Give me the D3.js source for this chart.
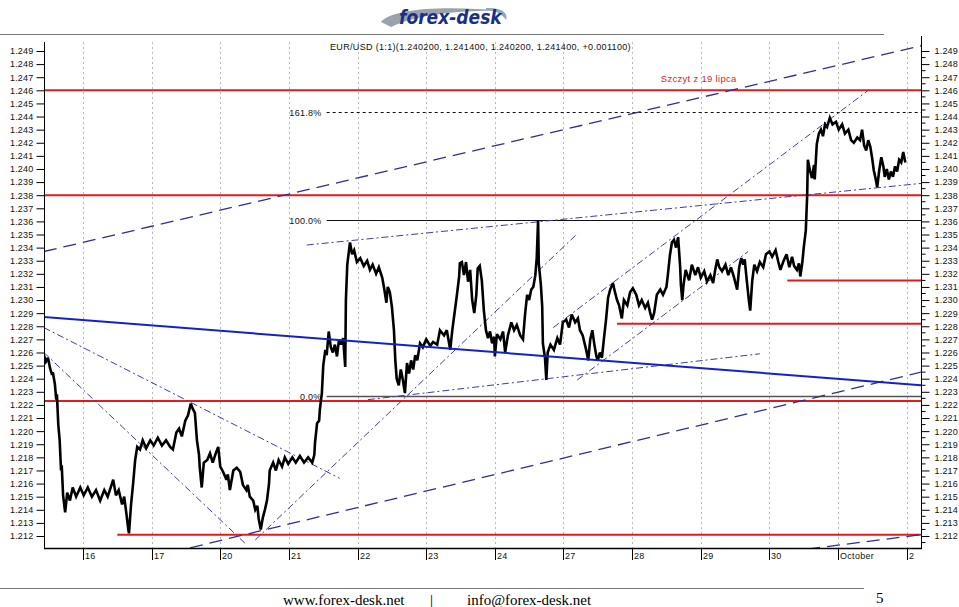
<!DOCTYPE html>
<html><head><meta charset="utf-8">
<script src="https://cdn.jsdelivr.net/npm/d3@7"></script>
<style>
body{margin:0;background:#fff;}
svg{display:block;}
</style></head>
<body>
<svg id="c" width="959" height="607" font-family="Arial,'Liberation Sans',sans-serif"></svg>
<script>
// ---- data ----
const dayLabels = ["16","17","20","21","22","23","24","27","28","29","30","October","2"];
const priceTicks = d3.range(1212, 1250).map(v => v / 1000);
const titleText = "EUR/USD (1:1)(1.240200, 1.241400, 1.240200, 1.241400, +0.001100)";
// [trading-day index, price]
const price = [
[-0.57,1.2258],[-0.54,1.2253],[-0.51,1.2256],[-0.48,1.2248],[-0.45,1.2243],[-0.44,1.2245],[-0.41,1.2236],[-0.39,1.2224],[-0.38,1.2228],[-0.36,1.2205],
[-0.34,1.2193],[-0.32,1.2170],[-0.31,1.2174],[-0.29,1.2151],[-0.26,1.2138],[-0.23,1.2153],[-0.19,1.2147],[-0.15,1.2157],[-0.10,1.2150],[-0.04,1.2157],
[0.01,1.2151],[0.07,1.2157],[0.13,1.2150],[0.19,1.2155],[0.25,1.2147],[0.31,1.2155],[0.36,1.2150],[0.41,1.2158],[0.44,1.2163],[0.48,1.2151],
[0.52,1.2155],[0.57,1.2144],[0.60,1.2150],[0.63,1.2138],[0.66,1.2125],[0.67,1.2122],[0.70,1.2144],[0.73,1.2160],[0.76,1.2178],[0.79,1.2188],
[0.83,1.2186],[0.87,1.2193],[0.92,1.2187],[0.98,1.2193],[1.03,1.2189],[1.09,1.2195],[1.15,1.2189],[1.21,1.2193],[1.27,1.2188],[1.31,1.2186],
[1.36,1.2199],[1.40,1.2202],[1.44,1.2196],[1.49,1.2208],[1.53,1.2212],[1.57,1.2221],[1.60,1.2217],[1.63,1.2214],[1.66,1.2193],[1.69,1.2182],
[1.70,1.2173],[1.73,1.2157],[1.76,1.2176],[1.81,1.2178],[1.85,1.2183],[1.89,1.2176],[1.94,1.2184],[1.97,1.2188],[2.00,1.2173],[2.04,1.2169],
[2.09,1.2163],[2.11,1.2167],[2.14,1.2155],[2.19,1.2170],[2.24,1.2172],[2.29,1.2169],[2.33,1.2159],[2.38,1.2155],[2.40,1.2159],[2.43,1.2150],
[2.48,1.2147],[2.51,1.2140],[2.54,1.2143],[2.56,1.2133],[2.59,1.2125],[2.62,1.2134],[2.65,1.2140],[2.68,1.2147],[2.71,1.2160],[2.72,1.2170],
[2.77,1.2176],[2.81,1.2170],[2.85,1.2178],[2.90,1.2173],[2.94,1.2180],[2.99,1.2175],[3.05,1.2180],[3.10,1.2176],[3.16,1.2181],[3.22,1.2176],
[3.28,1.2180],[3.34,1.2176],[3.37,1.2182],[3.38,1.2191],[3.41,1.2206],[3.44,1.2208],[3.45,1.2216],[3.48,1.2229],[3.50,1.2250],[3.53,1.2262],
[3.55,1.2258],[3.58,1.2276],[3.61,1.2264],[3.64,1.2260],[3.67,1.2266],[3.70,1.2257],[3.73,1.2270],[3.76,1.2266],[3.79,1.2271],[3.82,1.2249],
[3.83,1.2300],[3.85,1.2327],[3.88,1.2340],[3.89,1.2344],[3.92,1.2335],[3.95,1.2338],[3.99,1.2329],[4.04,1.2332],[4.09,1.2326],[4.14,1.2330],
[4.18,1.2323],[4.22,1.2327],[4.27,1.2320],[4.31,1.2325],[4.36,1.2317],[4.39,1.2308],[4.42,1.2298],[4.44,1.2310],[4.47,1.2306],[4.50,1.2295],
[4.53,1.2277],[4.55,1.2254],[4.57,1.2240],[4.60,1.2235],[4.63,1.2247],[4.66,1.2239],[4.69,1.2229],[4.72,1.2252],[4.75,1.2244],[4.78,1.2254],
[4.81,1.2247],[4.84,1.2258],[4.87,1.2254],[4.91,1.2267],[4.95,1.2264],[5.00,1.2270],[5.06,1.2265],[5.10,1.2268],[5.16,1.2266],[5.20,1.2277],
[5.26,1.2273],[5.30,1.2277],[5.35,1.2262],[5.38,1.2277],[5.41,1.2289],[5.45,1.2305],[5.48,1.2318],[5.49,1.2328],[5.52,1.2329],[5.55,1.2319],
[5.58,1.2329],[5.61,1.2314],[5.64,1.2323],[5.67,1.2300],[5.70,1.2290],[5.73,1.2304],[5.75,1.2324],[5.78,1.2326],[5.81,1.2315],[5.84,1.2292],
[5.87,1.2277],[5.90,1.2271],[5.93,1.2276],[5.96,1.2267],[5.99,1.2272],[6.00,1.2257],[6.03,1.2274],[6.08,1.2270],[6.12,1.2276],[6.15,1.2260],
[6.19,1.2273],[6.24,1.2283],[6.28,1.2277],[6.32,1.2281],[6.37,1.2273],[6.41,1.2270],[6.44,1.2289],[6.47,1.2304],[6.50,1.2300],[6.53,1.2308],
[6.56,1.2310],[6.59,1.2319],[6.61,1.2332],[6.63,1.2361],[6.64,1.2328],[6.67,1.2312],[6.69,1.2295],[6.70,1.2267],[6.73,1.2256],[6.75,1.2239],
[6.77,1.2260],[6.81,1.2266],[6.86,1.2262],[6.91,1.2271],[6.95,1.2266],[6.99,1.2283],[7.04,1.2285],[7.08,1.2279],[7.12,1.2289],[7.17,1.2283],
[7.21,1.2286],[7.24,1.2277],[7.28,1.2273],[7.33,1.2262],[7.36,1.2254],[7.39,1.2270],[7.42,1.2277],[7.45,1.2266],[7.48,1.2257],[7.50,1.2254],
[7.53,1.2260],[7.56,1.2256],[7.59,1.2271],[7.62,1.2285],[7.65,1.2302],[7.68,1.2308],[7.72,1.2313],[7.75,1.2306],[7.78,1.2300],[7.81,1.2296],
[7.85,1.2286],[7.88,1.2300],[7.93,1.2296],[7.97,1.2306],[8.01,1.2309],[8.06,1.2304],[8.10,1.2296],[8.14,1.2300],[8.19,1.2294],[8.23,1.2298],
[8.26,1.2291],[8.29,1.2285],[8.32,1.2290],[8.36,1.2304],[8.41,1.2308],[8.45,1.2304],[8.50,1.2310],[8.52,1.2319],[8.55,1.2334],[8.58,1.2344],
[8.61,1.2346],[8.64,1.2340],[8.67,1.2348],[8.70,1.2325],[8.71,1.2312],[8.73,1.2300],[8.75,1.2312],[8.78,1.2323],[8.83,1.2315],[8.87,1.2327],
[8.92,1.2319],[8.96,1.2325],[9.00,1.2317],[9.05,1.2322],[9.09,1.2314],[9.14,1.2319],[9.18,1.2313],[9.21,1.2323],[9.24,1.2331],[9.27,1.2325],
[9.31,1.2322],[9.36,1.2327],[9.40,1.2319],[9.44,1.2325],[9.48,1.2318],[9.53,1.2308],[9.56,1.2325],[9.59,1.2332],[9.62,1.2327],[9.64,1.2331],
[9.67,1.2315],[9.70,1.2300],[9.72,1.2292],[9.75,1.2315],[9.78,1.2327],[9.82,1.2322],[9.86,1.2329],[9.91,1.2325],[9.95,1.2335],[10.00,1.2337],
[10.04,1.2333],[10.09,1.2338],[10.13,1.2329],[10.16,1.2323],[10.20,1.2329],[10.25,1.2335],[10.29,1.2325],[10.33,1.2333],[10.36,1.2326],[10.40,1.2323],
[10.43,1.2328],[10.45,1.2318],[10.48,1.2329],[10.50,1.2340],[10.53,1.2353],[10.55,1.2380],[10.56,1.2407],[10.59,1.2399],[10.62,1.2393],[10.65,1.2403],
[10.66,1.2392],[10.69,1.2419],[10.72,1.2427],[10.75,1.2430],[10.78,1.2425],[10.81,1.2434],[10.84,1.2432],[10.88,1.2439],[10.92,1.2434],[10.97,1.2436],
[11.01,1.2430],[11.06,1.2434],[11.10,1.2427],[11.15,1.2430],[11.19,1.2422],[11.23,1.2420],[11.28,1.2424],[11.32,1.2422],[11.35,1.2430],[11.38,1.2418],
[11.41,1.2414],[11.44,1.2422],[11.47,1.2417],[11.50,1.2407],[11.52,1.2399],[11.55,1.2392],[11.57,1.2386],[11.60,1.2399],[11.63,1.2409],[11.66,1.2402],
[11.68,1.2394],[11.71,1.2400],[11.74,1.2392],[11.77,1.2398],[11.80,1.2394],[11.83,1.2402],[11.86,1.2398],[11.89,1.2407],[11.92,1.2405],[11.95,1.2413],[11.98,1.2405]
];
// horizontal red levels: [price, start day index]
const redLevels = [[1.246,-0.57],[1.238,-0.57],[1.2223,-0.57],[1.2121,0.50],[1.2315,10.26],[1.2282,7.78]];
const redLabel = "Szczyt z 19 lipca";
// Fibonacci retracement
const fibLow = 1.2227, fibHigh = 1.2361, fibStart = 3.55;
const fibLevels = [0, 1, 1.618];
const fibLabels = ["0.0%", "100.0%", "161.8%"];
// trend lines [t1,p1,t2,p2]
const blueSolid = [[-0.57,1.2287,12.21,1.2235]];
const longDashed = [[-0.57,1.2337,12.21,1.2494],[1.56,1.2111,12.21,1.2245],[10.55,1.2110,12.21,1.2121]];
const dashDot = [
  [-0.57,1.2279,3.74,1.2164],
  [-0.57,1.2260,2.39,1.2113],
  [2.51,1.2117,7.21,1.2351],
  [6.85,1.2279,11.44,1.2460],
  [7.20,1.2239,9.69,1.2337],
  [3.26,1.2342,12.21,1.2389],
  [4.15,1.2224,9.86,1.2259]
];

// ---- drawing ----
const svg = d3.select("#c");
const L = 44, R = 921, T = 42, B = 548;
const x = d3.scaleLinear().domain([0, 12]).range([83, 906.7]);
const y = d3.scaleLinear().domain([1.212, 1.249]).range([536, 51]);

// header
svg.append("line").attr("x1",0).attr("x2",884).attr("y1",34.5).attr("y2",34.5).attr("stroke","#777").attr("stroke-width",1.2);
svg.append("path").attr("d","M381,22 C392,9 440,5 506,11 C470,10 420,13 391,27 Z").attr("fill","#9aa3ad");
svg.append("path").attr("d","M486,8 C501,7 509,13 506,20 C502,14 495,10 486,10 Z").attr("fill","#8fa6c8");
svg.append("text").attr("x",399).attr("y",24).attr("font-size",19).attr("font-weight","bold").attr("font-style","italic")
  .attr("fill","#1c2f86").attr("font-family","'DejaVu Sans Condensed','Liberation Sans Narrow',Arial,sans-serif").text("forex-desk");

// footer
svg.append("line").attr("x1",0).attr("x2",864).attr("y1",588.5).attr("y2",588.5).attr("stroke","#777").attr("stroke-width",1.2);
const ff = "'Liberation Serif','Times New Roman',serif";
svg.append("text").attr("x",283).attr("y",605).attr("font-size",15).attr("font-family",ff).text("www.forex-desk.net");
svg.append("text").attr("x",430).attr("y",605).attr("font-size",15).attr("font-family",ff).text("|");
svg.append("text").attr("x",467).attr("y",605).attr("font-size",15).attr("font-family",ff).text("info@forex-desk.net");
svg.append("text").attr("x",876).attr("y",603).attr("font-size",15).attr("font-family",ff).text("5");

// grid
svg.append("g").selectAll("line").data(d3.range(dayLabels.length)).join("line")
  .attr("x1",d=>Math.round(x(d))+0.5).attr("x2",d=>Math.round(x(d))+0.5).attr("y1",T).attr("y2",B)
  .attr("stroke","#b8b8b8").attr("stroke-dasharray","2,3");

// fib lines
const fibG = svg.append("g");
fibLevels.forEach((lv,i)=>{
  const p = fibLow + lv*(fibHigh-fibLow);
  const yy = Math.round(y(p))+0.5;
  fibG.append("line").attr("x1",x(fibStart)).attr("x2",R).attr("y1",yy).attr("y2",yy)
    .attr("stroke", i===0 ? "#555" : "#111").attr("stroke-width", i===0 ? 1.6 : 1)
    .attr("stroke-dasharray", i===2 ? "3,3" : null);
  fibG.append("text").attr("x",x(fibStart)-5).attr("y",yy+3).attr("text-anchor","end")
    .attr("font-size",9).attr("letter-spacing",0.3).attr("fill","#111").text(fibLabels[i]);
});

// red levels
svg.append("g").selectAll("line").data(redLevels).join("line")
  .attr("x1",d=>x(d[1])).attr("x2",R).attr("y1",d=>y(d[0])).attr("y2",d=>y(d[0]))
  .attr("stroke","#e31b1b").attr("stroke-width",2);
svg.append("text").attr("x",x(8.97)).attr("y",y(1.246)-8).attr("text-anchor","middle")
  .attr("font-size",9.5).attr("letter-spacing",0.3).attr("fill","#e31b1b").text(redLabel);

// clip for trend lines
svg.append("clipPath").attr("id","pc").append("rect").attr("x",L).attr("y",T).attr("width",R-L).attr("height",B-T);
const tg = svg.append("g").attr("clip-path","url(#pc)");
tg.selectAll(".ld").data(longDashed).join("line").attr("class","ld")
  .attr("x1",d=>x(d[0])).attr("y1",d=>y(d[1])).attr("x2",d=>x(d[2])).attr("y2",d=>y(d[3]))
  .attr("stroke","#2b2f9c").attr("stroke-width",1.3).attr("stroke-dasharray","13,7");
tg.selectAll(".dd").data(dashDot).join("line").attr("class","dd")
  .attr("x1",d=>x(d[0])).attr("y1",d=>y(d[1])).attr("x2",d=>x(d[2])).attr("y2",d=>y(d[3]))
  .attr("stroke","#3a3ea6").attr("stroke-width",1).attr("stroke-dasharray","7,3,2,3");

// price
const line = d3.line().x(d=>x(d[0])).y(d=>y(d[1]));
tg.append("path").datum(price).attr("d",line).attr("fill","none").attr("stroke","#000")
  .attr("stroke-width",2.6).attr("stroke-linejoin","miter").attr("stroke-miterlimit",3);

// blue solid
tg.selectAll(".bs").data(blueSolid).join("line").attr("class","bs")
  .attr("x1",d=>x(d[0])).attr("y1",d=>y(d[1])).attr("x2",d=>x(d[2])).attr("y2",d=>y(d[3]))
  .attr("stroke","#1420c8").attr("stroke-width",2);

// title
svg.append("text").attr("x",330).attr("y",50).attr("font-size",9).attr("letter-spacing",0.33).attr("fill","#111").text(titleText);

// axes
const fmt = d3.format(".3f");
const axFont = g => g.selectAll("text").attr("font-size",9).attr("letter-spacing",0.2).attr("fill","#111");
const la = svg.append("g").attr("transform",`translate(${L+0.5},0)`)
  .call(d3.axisLeft(y).tickValues(priceTicks).tickFormat(fmt).tickSize(8).tickPadding(3));
la.attr("font-family",null);
la.select(".domain").attr("d",`M0,${T}V${B}`);
const minorTicks = d3.range(12115, 12495, 5).map(v=>v/10000).filter(v=>Math.round(v*10000)%10!==0);
const ra = svg.append("g").attr("transform",`translate(${R+0.5},0)`)
  .call(d3.axisRight(y).tickValues(priceTicks).tickFormat(fmt).tickSize(8).tickPadding(5));
ra.attr("font-family",null);
ra.select(".domain").attr("d",`M0,${T-6}V${B}`);
ra.selectAll(".mn").data(minorTicks).join("line").attr("class","mn")
  .attr("x1",0).attr("x2",4).attr("y1",d=>y(d)).attr("y2",d=>y(d)).attr("stroke","#000");
axFont(la); axFont(ra);

const ba = svg.append("g");
ba.append("line").attr("x1",L).attr("x2",R+1).attr("y1",B+0.5).attr("y2",B+0.5).attr("stroke","#000").attr("stroke-width",1.5);
ba.selectAll(".bt").data(dayLabels).join("line").attr("class","bt")
  .attr("x1",(d,i)=>Math.round(x(i))+0.5).attr("x2",(d,i)=>Math.round(x(i))+0.5).attr("y1",B).attr("y2",B+12).attr("stroke","#000");
ba.selectAll(".bl").data(dayLabels).join("text").attr("class","bl")
  .attr("x",(d,i)=>Math.round(x(i))+2).attr("y",B+11).attr("font-size",9).attr("letter-spacing",0.3).attr("fill","#111").text(d=>d);
</script>
</body></html>
